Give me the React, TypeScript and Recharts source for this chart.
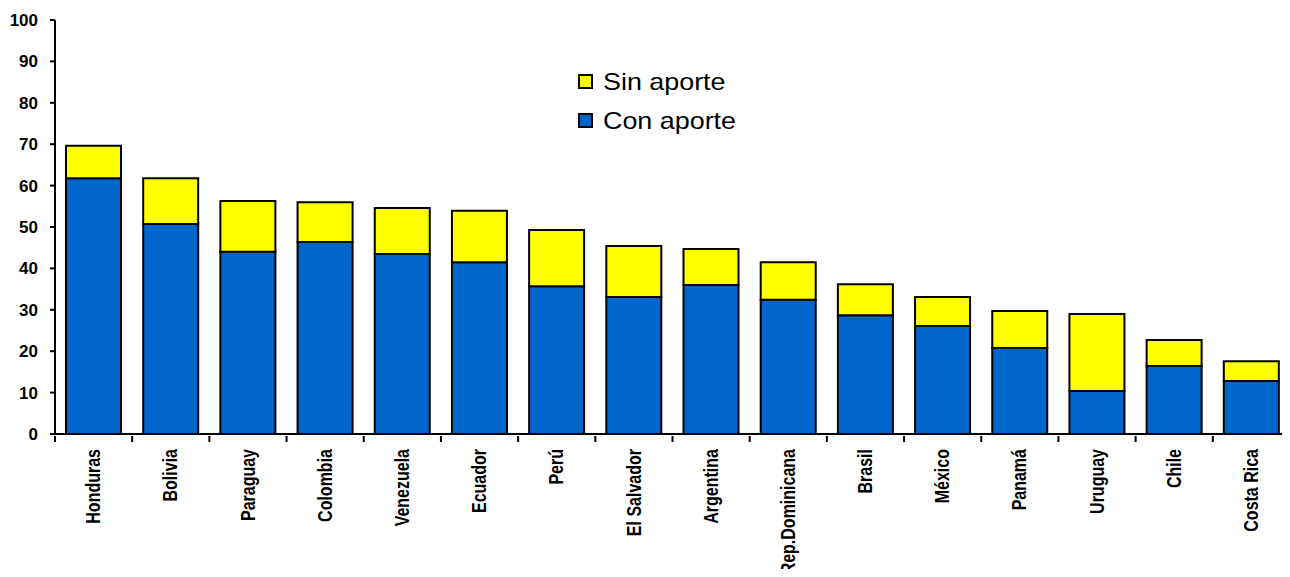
import { BarChart, Bar, XAxis, YAxis } from 'recharts'

const countries = [
  'Honduras', 'Bolivia', 'Paraguay', 'Colombia', 'Venezuela', 'Ecuador', 'Perú', 'El Salvador',
  'Argentina', 'Rep.Dominicana', 'Brasil', 'México', 'Panamá', 'Uruguay', 'Chile', 'Costa Rica',
]
const conAporte = [61.8, 50.7, 44.0, 46.4, 43.5, 41.5, 35.7, 33.1, 36.0, 32.4, 28.7, 26.1, 20.8, 10.4, 16.4, 12.8]
const sinAporte = [7.8, 11.1, 12.3, 9.6, 11.1, 12.4, 13.6, 12.3, 8.7, 9.1, 7.5, 7.0, 8.9, 18.6, 6.3, 4.8]
const yTicks = [0, 10, 20, 30, 40, 50, 60, 70, 80, 90, 100]

const W = 1290
const H = 577
const LEFT = 55
const BAND = (W - LEFT) / countries.length
const FONT = '"Liberation Sans", Arial, sans-serif'

const data = countries.map((c, i) => ({ country: c, con: conAporte[i], sin: sinAporte[i] }))

// category-boundary ticks (Excel style) + narrow rotated label
function XTick(props: any) {
  const { x, y, payload } = props
  const x0 = x - BAND / 2
  const ty = y + 7
  return (
    <g>
      <line x1={x0} x2={x0} y1={y - 6} y2={y} stroke="#000" strokeWidth={2} />
      <text
        x={0}
        y={0}
        transform={`translate(${x}, ${ty}) rotate(-90) scale(0.8, 1)`}
        textAnchor="end"
        dominantBaseline="central"
        fontFamily={FONT}
        fontWeight="bold"
        fontSize={20}
        fill="#000"
      >
        {payload.value}
      </text>
    </g>
  )
}

function LegendBox() {
  const items = [
    { label: 'Sin aporte', color: '#FFFF00' },
    { label: 'Con aporte', color: '#0066CC' },
  ]
  return (
    <div style={{ position: 'absolute', left: 578, top: 62, fontFamily: FONT, fontSize: 24, color: '#000' }}>
      {items.map(it => (
        <div key={it.label} style={{ display: 'flex', alignItems: 'center', height: 39 }}>
          <span
            style={{
              display: 'inline-block', width: 11, height: 11, background: it.color,
              border: '2px solid #000', marginRight: 10,
            }}
          />
          <span style={{ display: 'inline-block', transform: 'scaleX(1.12)', transformOrigin: 'left center' }}>
            {it.label}
          </span>
        </div>
      ))}
    </div>
  )
}

export default function App() {
  return (
    <div style={{ position: 'relative', margin: -8, width: W, height: H, overflow: 'hidden', background: '#fff' }}>
      <div
        style={{
          position: 'absolute', top: -17, left: 560, fontFamily: FONT, fontWeight: 'bold',
          fontSize: 22, color: '#000',
        }}
      >
        (en porcentajes)
      </div>
      <BarChart
        width={W}
        height={H}
        data={data}
        margin={{ top: 20, right: 0, left: 0, bottom: 0 }}
        barCategoryGap={11}
      >
        <XAxis
          dataKey="country"
          interval={0}
          height={143}
          tickLine={false}
          tickSize={6}
          tick={<XTick />}
          axisLine={{ stroke: '#000', strokeWidth: 2 }}
        />
        <YAxis
          width={LEFT}
          domain={[0, 100]}
          ticks={yTicks}
          interval={0}
          tickSize={5}
          tickMargin={12}
          tickLine={{ stroke: '#000', strokeWidth: 2 }}
          axisLine={{ stroke: '#000', strokeWidth: 2 }}
          tick={{ fontFamily: FONT, fontWeight: 'bold', fontSize: 17, fill: '#000' }}
        />
        <Bar dataKey="con" stackId="a" fill="#0066CC" stroke="#000" strokeWidth={2} isAnimationActive={false} />
        <Bar dataKey="sin" stackId="a" fill="#FFFF00" stroke="#000" strokeWidth={2} isAnimationActive={false} />
      </BarChart>
      <LegendBox />
    </div>
  )
}
